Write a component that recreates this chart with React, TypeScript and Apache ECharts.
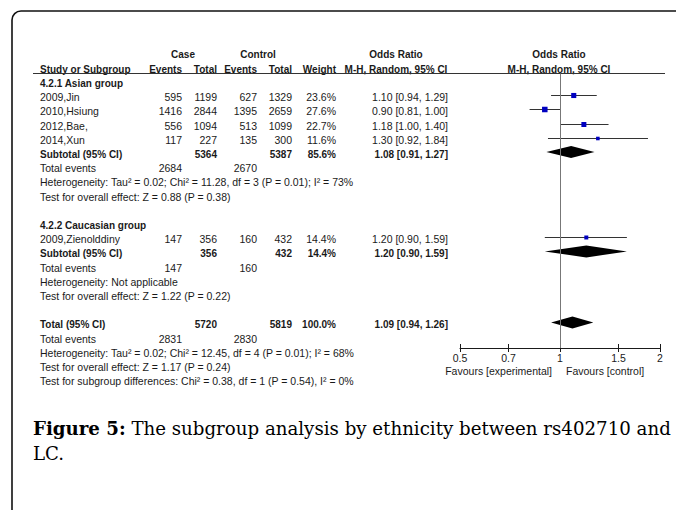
import React, { useEffect, useRef } from "react";
import * as echarts from "echarts";

// ---------- data ----------
const studyNames = ["2009,Jin", "2010,Hsiung", "2012,Bae,", "2014,Xun", "2009,Zienolddiny"];
const studyRows = [1, 2, 3, 4, 11];
const caseEvents = [595, 1416, 556, 117, 147];
const caseTotals = [1199, 2844, 1094, 227, 356];
const controlEvents = [627, 1395, 513, 135, 160];
const controlTotals = [1329, 2659, 1099, 300, 432];
const studyWeights = [23.6, 27.6, 22.7, 11.6, 14.4];
const studyOR = [1.1, 0.9, 1.18, 1.3, 1.2];
const studyLow = [0.94, 0.81, 1.0, 0.92, 0.9];
const studyHigh = [1.29, 1.0, 1.4, 1.84, 1.59];

const groupTitles = ["4.2.1 Asian group", "4.2.2 Caucasian group"];
const groupRows = [0, 10];

const pooledNames = ["Subtotal (95% CI)", "Subtotal (95% CI)", "Total (95% CI)"];
const pooledRows = [5, 12, 17];
const pooledCaseTotals = [5364, 356, 5720];
const pooledControlTotals = [5387, 432, 5819];
const pooledWeights = [85.6, 14.4, 100.0];
const pooledOR = [1.08, 1.2, 1.09];
const pooledLow = [0.91, 0.9, 0.94];
const pooledHigh = [1.27, 1.59, 1.26];

const eventRows = [6, 13, 18];
const eventCase = [2684, 147, 2831];
const eventControl = [2670, 160, 2830];

const noteRows = [7, 8, 14, 15, 19, 20, 21];
const noteTexts = [
  "Heterogeneity: Tau² = 0.02; Chi² = 11.28, df = 3 (P = 0.01); I² = 73%",
  "Test for overall effect: Z = 0.88 (P = 0.38)",
  "Heterogeneity: Not applicable",
  "Test for overall effect: Z = 1.22 (P = 0.22)",
  "Heterogeneity: Tau² = 0.02; Chi² = 12.45, df = 4 (P = 0.01); I² = 68%",
  "Test for overall effect: Z = 1.17 (P = 0.24)",
  "Test for subgroup differences: Chi² = 0.38, df = 1 (P = 0.54), I² = 0%",
];

const xTicks = [0.5, 0.7, 1, 1.5, 2];

// ---------- layout ----------
const FONT = "'Liberation Sans', Arial, sans-serif";
const SERIF = "'DejaVu Serif', 'Liberation Serif', serif";
const INK = "#1a1a1a";
const ROW0 = 83;
const PITCH = 14.2;
const GRID_LEFT = 460;
const GRID_W = 200;
const GRID_TOP = 73.5;
const GRID_H = 274.5;
const Y_MIN = -0.53;
const Y_MAX = 18.8;
const REG_SIZE = 10.5;
const BOLD_SIZE = 10;

const COL = {
  study: 40,
  caseEv: 182,
  caseTot: 217,
  ctrlEv: 257,
  ctrlTot: 292,
  weight: 336,
  or: 448,
};

const rowY = (i: number) => ROW0 + PITCH * i;
const fmtOR = (o: number, l: number, h: number) =>
  `${o.toFixed(2)} [${l.toFixed(2)}, ${h.toFixed(2)}]`;

function txt(x: number, y: number, text: string, align: string, bold = false) {
  return {
    type: "text",
    x,
    y,
    silent: true,
    style: {
      text,
      fill: INK,
      fontSize: bold ? BOLD_SIZE : REG_SIZE,
      fontFamily: FONT,
      fontWeight: bold ? "bold" : "normal",
      align,
      textAlign: align,
      verticalAlign: "middle",
      textVerticalAlign: "middle",
    },
  };
}

function buildGraphics() {
  const els: any[] = [];
  // frame
  els.push({
    type: "rect",
    silent: true,
    shape: { x: 12, y: 11, width: 720, height: 540, r: [9, 0, 0, 0] },
    style: { fill: "none", stroke: "#111", lineWidth: 1.6 },
  });
  // headers
  els.push(txt(183, 54, "Case", "center", true));
  els.push(txt(258, 54, "Control", "center", true));
  els.push(txt(396, 54, "Odds Ratio", "center", true));
  els.push(txt(559, 54, "Odds Ratio", "center", true));
  els.push(txt(COL.study, 69, "Study or Subgroup", "left", true));
  els.push(txt(COL.caseEv, 69, "Events", "right", true));
  els.push(txt(COL.caseTot, 69, "Total", "right", true));
  els.push(txt(COL.ctrlEv, 69, "Events", "right", true));
  els.push(txt(COL.ctrlTot, 69, "Total", "right", true));
  els.push(txt(COL.weight, 69, "Weight", "right", true));
  els.push(txt(396, 69, "M-H, Random, 95% CI", "center", true));
  els.push(txt(559, 69, "M-H, Random, 95% CI", "center", true));
  els.push({
    type: "line",
    silent: true,
    shape: { x1: 33, y1: 73.5, x2: 665, y2: 73.5 },
    style: { stroke: "#333", lineWidth: 1 },
  });
  // group titles
  groupTitles.forEach((g, i) => els.push(txt(COL.study, rowY(groupRows[i]), g, "left", true)));
  // studies
  studyNames.forEach((n, i) => {
    const y = rowY(studyRows[i]);
    els.push(txt(COL.study, y, n, "left"));
    els.push(txt(COL.caseEv, y, String(caseEvents[i]), "right"));
    els.push(txt(COL.caseTot, y, String(caseTotals[i]), "right"));
    els.push(txt(COL.ctrlEv, y, String(controlEvents[i]), "right"));
    els.push(txt(COL.ctrlTot, y, String(controlTotals[i]), "right"));
    els.push(txt(COL.weight, y, studyWeights[i].toFixed(1) + "%", "right"));
    els.push(txt(COL.or, y, fmtOR(studyOR[i], studyLow[i], studyHigh[i]), "right"));
  });
  // pooled
  pooledNames.forEach((n, i) => {
    const y = rowY(pooledRows[i]);
    els.push(txt(COL.study, y, n, "left", true));
    els.push(txt(COL.caseTot, y, String(pooledCaseTotals[i]), "right", true));
    els.push(txt(COL.ctrlTot, y, String(pooledControlTotals[i]), "right", true));
    els.push(txt(COL.weight, y, pooledWeights[i].toFixed(1) + "%", "right", true));
    els.push(txt(COL.or, y, fmtOR(pooledOR[i], pooledLow[i], pooledHigh[i]), "right", true));
  });
  // total events
  eventRows.forEach((r, i) => {
    const y = rowY(r);
    els.push(txt(COL.study, y, "Total events", "left"));
    els.push(txt(COL.caseEv, y, String(eventCase[i]), "right"));
    els.push(txt(COL.ctrlEv, y, String(eventControl[i]), "right"));
  });
  // notes
  noteTexts.forEach((t, i) => els.push(txt(COL.study, rowY(noteRows[i]), t, "left")));
  // favours
  els.push(txt(552, 371, "Favours [experimental]", "right"));
  els.push(txt(566, 371, "Favours [control]", "left"));
  // caption
  els.push({
    type: "text",
    x: 33,
    y: 428,
    silent: true,
    style: {
      text: "{b|Figure 5:} The subgroup analysis by ethnicity between rs402710 and",
      fill: "#000",
      fontSize: 18.2,
      fontFamily: SERIF,
      align: "left",
      textAlign: "left",
      verticalAlign: "middle",
      textVerticalAlign: "middle",
      rich: {
        b: { fontWeight: "bold", fontSize: 18.2, fontFamily: SERIF, fill: "#000" },
      },
    },
  });
  els.push({
    type: "text",
    x: 33,
    y: 453,
    silent: true,
    style: {
      text: "LC.",
      fill: "#000",
      fontSize: 18.2,
      fontFamily: SERIF,
      align: "left",
      textAlign: "left",
      verticalAlign: "middle",
      textVerticalAlign: "middle",
    },
  });
  return els;
}

export default function App() {
  const ref = useRef<HTMLDivElement>(null);
  useEffect(() => {
    document.body.style.margin = "0";
    if (!ref.current) return;
    const chart = echarts.init(ref.current, undefined, { renderer: "svg" });
    const tickVals = xTicks.map((v) => Math.log(v));
    const studyData = studyOR.map((v, i) => [
      Math.log(v),
      studyRows[i],
      Math.log(studyLow[i]),
      Math.log(studyHigh[i]),
      studyWeights[i],
    ]);
    const pooledData = pooledOR.map((v, i) => [
      Math.log(v),
      pooledRows[i],
      Math.log(pooledLow[i]),
      Math.log(pooledHigh[i]),
    ]);
    const option: any = {
      animation: false,
      backgroundColor: "#fff",
      grid: { left: GRID_LEFT, top: GRID_TOP, width: GRID_W, height: GRID_H, containLabel: false },
      xAxis: [
        {
          type: "value",
          position: "bottom",
          min: Math.log(0.5),
          max: Math.log(2),
          splitLine: { show: false },
          axisLine: { show: true, onZero: false, lineStyle: { color: INK, width: 1 } },
          axisTick: { show: true, length: 4, customValues: tickVals, lineStyle: { color: INK } },
          axisLabel: {
            customValues: tickVals,
            showMinLabel: true,
            showMaxLabel: true,
            formatter: (v: number) => String(Number(Math.exp(v).toPrecision(2))),
            margin: 4,
            fontSize: REG_SIZE,
            fontFamily: FONT,
            color: INK,
          },
        },
        {
          type: "value",
          position: "bottom",
          min: Math.log(0.5),
          max: Math.log(2),
          splitLine: { show: false },
          axisLine: { show: false, onZero: false },
          axisTick: { show: true, inside: true, length: 4, customValues: tickVals, lineStyle: { color: INK } },
          axisLabel: { show: false },
        },
      ],
      yAxis: { type: "value", inverse: true, min: Y_MIN, max: Y_MAX, show: false },
      series: [
        {
          type: "custom",
          xAxisIndex: 0,
          encode: { x: 0, y: 1 },
          data: studyData,
          renderItem: (_p: any, api: any) => {
            const row = api.value(1);
            const c = api.coord([api.value(0), row]);
            const pl = api.coord([api.value(2), row]);
            const ph = api.coord([api.value(3), row]);
            const s = Math.sqrt(api.value(4)) * 1.05;
            const y = Math.round(c[1]) + 0.5;
            return {
              type: "group",
              children: [
                {
                  type: "line",
                  shape: { x1: pl[0], y1: y, x2: ph[0], y2: y },
                  style: { stroke: "#333", lineWidth: 1 },
                },
                {
                  type: "rect",
                  shape: { x: c[0] - s / 2, y: y - s / 2, width: s, height: s },
                  style: { fill: "#0000c0" },
                },
              ],
            };
          },
          markLine: {
            silent: true,
            symbol: ["none", "none"],
            label: { show: false },
            lineStyle: { color: "#777", width: 1, type: "solid" },
            data: [{ xAxis: 0 }],
          },
          z: 3,
        },
        {
          type: "custom",
          xAxisIndex: 0,
          encode: { x: 0, y: 1 },
          data: pooledData,
          renderItem: (_p: any, api: any) => {
            const row = api.value(1);
            const c = api.coord([api.value(0), row]);
            const pl = api.coord([api.value(2), row]);
            const ph = api.coord([api.value(3), row]);
            const y = c[1];
            return {
              type: "polygon",
              shape: {
                points: [
                  [pl[0], y],
                  [c[0], y - 6],
                  [ph[0], y],
                  [c[0], y + 6],
                ],
              },
              style: { fill: "#000" },
            };
          },
          z: 4,
        },
      ],
      graphic: { elements: buildGraphics() },
    };
    chart.setOption(option);
    return () => chart.dispose();
  }, []);
  return <div ref={ref} style={{ width: 676, height: 510 }} />;
}
